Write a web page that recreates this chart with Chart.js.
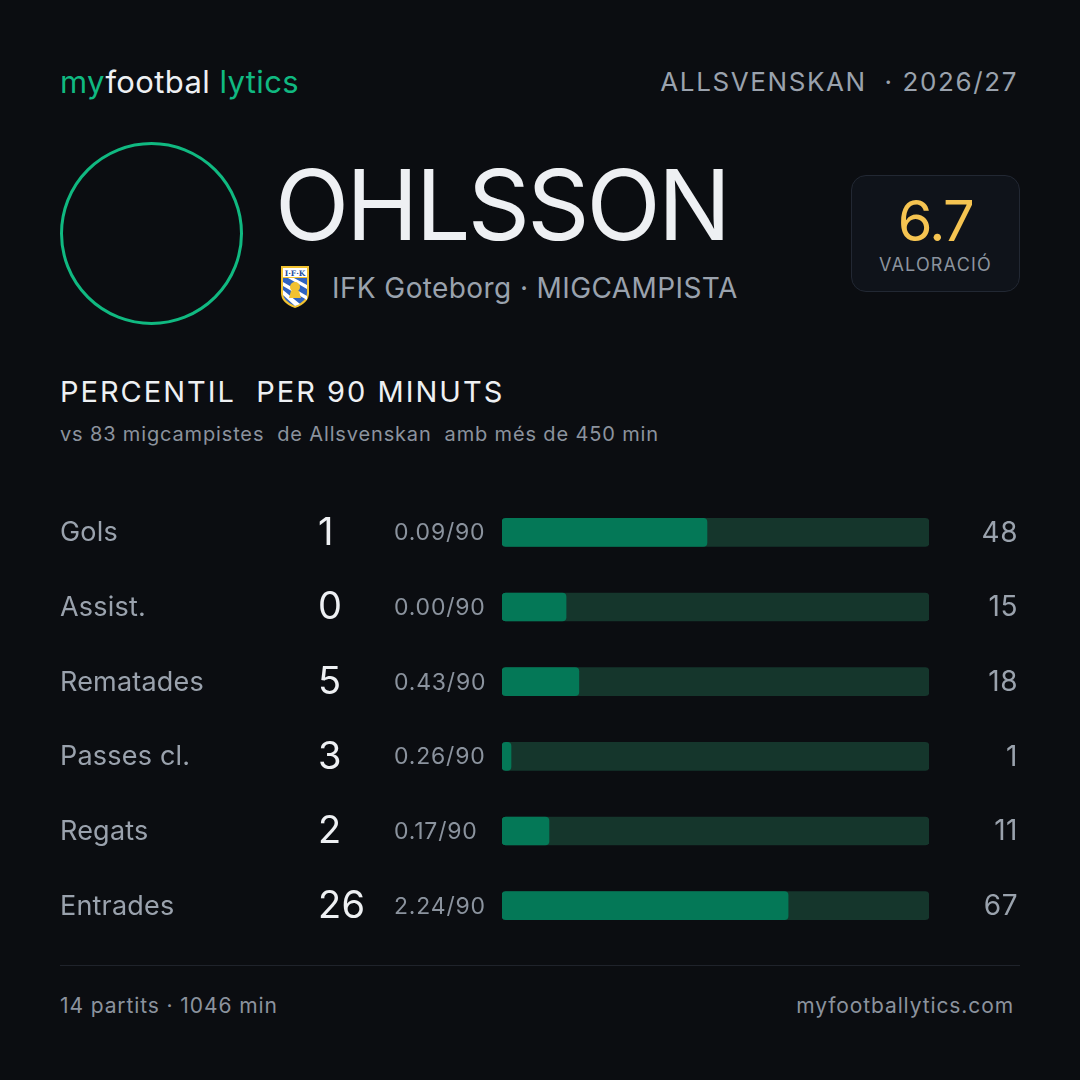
<!DOCTYPE html>
<html lang="ca">
<head>
  <meta charset="UTF-8">
  <title>Ohlsson - percentils</title>
  <script src="https://cdn.jsdelivr.net/npm/chart.js"></script>
  <style>
    html, body { margin: 0; padding: 0; background: #0b0d11; }
    body { width: 1080px; height: 1080px; position: relative; overflow: hidden;
           font-family: Inter, "Noto Sans", sans-serif; color: #9aa2ad; }
    .abs { position: absolute; white-space: pre; }
    .green { color: #10b981; }
    .white { color: #eef0f3; }
    #logo { left: 60px; top: 62px; font-size: 31px; letter-spacing: 0.4px; line-height: 40px; }
    #league { right: 62px; top: 64px; font-size: 26px; letter-spacing: 1.6px; line-height: 36px; color: #9aa2ad; }
    #avatar { left: 60px; top: 142px; width: 177px; height: 177px; border: 3px solid #10b981; border-radius: 50%; }
    #name { left: 275px; top: 150px; font-size: 97px; line-height: 110px; color: #eef0f3; font-weight: 400; letter-spacing: -2.8px; }
    #crest { left: 280px; top: 265px; }
    #team { left: 332px; top: 270px; font-size: 28px; line-height: 36px; color: #9aa2ad; letter-spacing: 0.4px; }
    #rating { left: 851px; top: 175px; width: 169px; height: 117px; box-sizing: border-box;
              background: #0f131a; border: 1px solid #222833; border-radius: 15px; }
    #rating .val { position: absolute; left: 0; right: 0; top: 12px; text-align: center;
                   font-size: 56px; line-height: 66px; color: #f5c451; letter-spacing: -1.5px; }
    #rating .lbl { position: absolute; left: 0; right: 0; top: 78px; text-align: center;
                   font-size: 18px; line-height: 22px; color: #8b939e; letter-spacing: 1.2px; }
    #title { left: 60px; top: 373px; font-size: 29px; line-height: 38px; color: #eef0f3; letter-spacing: 2px; }
    #subtitle { left: 60px; top: 421px; font-size: 20px; line-height: 26px; color: #8b939e; letter-spacing: 0.85px; }
    #chartWrap { position: absolute; left: 0; top: 495px; width: 1080px; height: 448px; }
    #rule { position: absolute; left: 60px; top: 965px; width: 960px; height: 1px; background: #1f232b; }
    #footL { left: 60px; top: 992px; font-size: 21px; line-height: 28px; color: #8b939e; letter-spacing: 0.9px; }
    #footR { right: 66px; top: 992px; font-size: 21px; line-height: 28px; color: #8b939e; letter-spacing: 0.9px; }
  </style>
</head>
<body>
  <div class="abs" id="logo"><span class="green">my</span><span class="white">footbal</span> <span class="green">lytics</span></div>
  <div class="abs" id="league">ALLSVENSKAN  · 2026/27</div>

  <div class="abs" id="avatar"></div>
  <div class="abs" id="name">OHLSSON</div>
  <svg class="abs" id="crest" width="30" height="44" viewBox="0 0 30 44">
    <path d="M1 1 H29 V28 Q29 38 15 43 Q1 38 1 28 Z" fill="#f2c230"/>
    <path d="M3 3 H27 V12 H3 Z" fill="#ffffff"/>
    <text x="15" y="10.5" font-size="7.5" font-family="DejaVu Serif" fill="#1f4e9c" text-anchor="middle" font-weight="bold">I·F·K</text>
    <path d="M3 13 H27 V28 Q27 36 15 41 Q3 36 3 28 Z" fill="#2f63c0"/>
    <path d="M3 17 L27 31 L27 35 L3 21 Z M3 25 L20 39 L15 41 L3 30 Z M8 13 L27 24 L27 20 L14 13 Z" fill="#ffffff"/>
    <circle cx="15" cy="22" r="5" fill="#f2c230"/>
    <path d="M11 26 L19 26 L21 33 L9 33 Z" fill="#f2c230"/>
  </svg>
  <div class="abs" id="team">IFK Goteborg · MIGCAMPISTA</div>

  <div class="abs" id="rating">
    <div class="val">6.7</div>
    <div class="lbl">VALORACIÓ</div>
  </div>

  <div class="abs" id="title">PERCENTIL  PER 90 MINUTS</div>
  <div class="abs" id="subtitle">vs 83 migcampistes  de Allsvenskan  amb més de 450 min</div>

  <div id="chartWrap"><canvas id="bars"></canvas></div>

  <div id="rule"></div>
  <div class="abs" id="footL">14 partits · 1046 min</div>
  <div class="abs" id="footR">myfootballytics.com</div>

  <script>
    const categories = ['Gols', 'Assist.', 'Rematades', 'Passes cl.', 'Regats', 'Entrades'];
    const totals = [1, 0, 5, 3, 2, 26];
    const per90 = ['0.09', '0.00', '0.43', '0.26', '0.17', '2.24'];
    const percentiles = [48, 15, 18, 1, 11, 67];
    const trackMax = categories.map(() => 100);

    // row texts next to each bar, placed with the y scale
    const rowText = {
      id: 'rowText',
      afterDatasetsDraw(chart) {
        const ctx = chart.ctx;
        const y = chart.scales.y;
        ctx.save();
        ctx.textBaseline = 'middle';
        categories.forEach((cat, i) => {
          const py = y.getPixelForValue(i);
          ctx.textAlign = 'left';
          ctx.fillStyle = '#9aa2ad';
          ctx.font = '27px Inter';
          ctx.letterSpacing = '0.2px';
          ctx.fillText(cat, 60, py + 1);

          ctx.fillStyle = '#eef0f3';
          ctx.font = '38px Inter';
          ctx.letterSpacing = '0.3px';
          ctx.fillText(String(totals[i]), 318, py + 1);

          ctx.fillStyle = '#8b939e';
          ctx.font = '23px Inter';
          ctx.letterSpacing = '0.8px';
          ctx.fillText(per90[i] + '/90', 394, py + 1);

          ctx.textAlign = 'right';
          ctx.fillStyle = '#9aa2ad';
          ctx.font = '28px Inter';
          ctx.letterSpacing = '0.5px';
          ctx.fillText(String(percentiles[i]), 1018, py + 1);
        });
        ctx.restore();
      }
    };

    new Chart(document.getElementById('bars'), {
      type: 'bar',
      data: {
        labels: categories,
        datasets: [
          {
            label: 'Percentil',
            data: percentiles,
            backgroundColor: '#047857',
            borderRadius: 4,
            borderSkipped: false,
            barThickness: 28,
            minBarLength: 9,
            grouped: false,
            order: 1
          },
          {
            label: 'Track',
            data: trackMax,
            backgroundColor: '#15362c',
            borderRadius: 4,
            borderSkipped: false,
            barThickness: 28,
            grouped: false,
            order: 2
          }
        ]
      },
      options: {
        indexAxis: 'y',
        responsive: true,
        maintainAspectRatio: false,
        animation: false,
        layout: { padding: { left: 502, right: 151, top: 0, bottom: 0 } },
        scales: {
          x: { display: false, min: 0, max: 100 },
          y: { display: false }
        },
        plugins: {
          legend: { display: false },
          tooltip: { enabled: false }
        }
      },
      plugins: [rowText]
    });
  </script>
</body>
</html>
